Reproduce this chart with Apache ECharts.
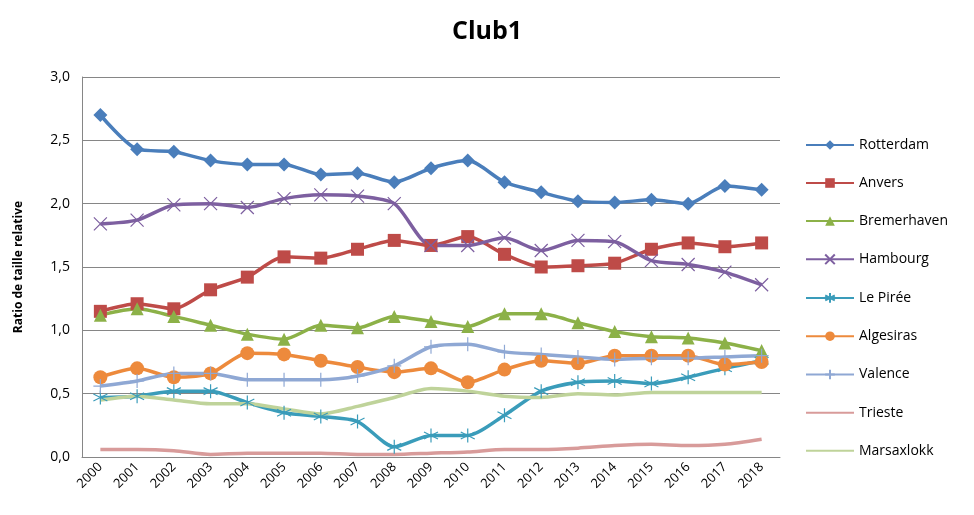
<!DOCTYPE html>
<html>
<head>
<meta charset="utf-8">
<script src="https://cdn.jsdelivr.net/npm/echarts@6/dist/echarts.min.js"></script>
<style>
  html, body { margin: 0; padding: 0; background: #fff; }
  #chart { width: 974px; height: 515px; }
</style>
</head>
<body>
<div id="chart"></div>
<script>
// années
const years = ['2000', '2001', '2002', '2003', '2004', '2005', '2006', '2007', '2008', '2009',
  '2010', '2011', '2012', '2013', '2014', '2015', '2016', '2017', '2018'];

// ratios
const rotterdam = [2.70, 2.43, 2.41, 2.34, 2.31, 2.31, 2.23, 2.24, 2.17, 2.28, 2.34, 2.17, 2.09, 2.02, 2.01, 2.03, 2.00, 2.14, 2.11];
const anvers = [1.15, 1.21, 1.17, 1.32, 1.42, 1.58, 1.57, 1.64, 1.71, 1.67, 1.74, 1.60, 1.50, 1.51, 1.53, 1.64, 1.69, 1.66, 1.69];
const bremerhaven = [1.12, 1.17, 1.11, 1.04, 0.97, 0.93, 1.04, 1.02, 1.11, 1.07, 1.03, 1.13, 1.13, 1.06, 0.99, 0.95, 0.94, 0.90, 0.84];
const hambourg = [1.84, 1.87, 1.99, 2.00, 1.97, 2.04, 2.07, 2.06, 2.00, 1.67, 1.67, 1.73, 1.63, 1.71, 1.70, 1.55, 1.52, 1.46, 1.36];
const lePiree = [0.47, 0.48, 0.52, 0.52, 0.43, 0.35, 0.32, 0.28, 0.08, 0.17, 0.17, 0.33, 0.52, 0.59, 0.60, 0.58, 0.63, 0.70, 0.76];
const algesiras = [0.63, 0.70, 0.63, 0.66, 0.82, 0.81, 0.76, 0.71, 0.67, 0.70, 0.59, 0.69, 0.76, 0.74, 0.80, 0.80, 0.80, 0.73, 0.75];
const valence = [0.56, 0.60, 0.66, 0.66, 0.61, 0.61, 0.61, 0.64, 0.72, 0.87, 0.89, 0.83, 0.81, 0.79, 0.77, 0.78, 0.78, 0.79, 0.80];
const trieste = [0.06, 0.06, 0.05, 0.02, 0.03, 0.03, 0.03, 0.02, 0.02, 0.03, 0.04, 0.06, 0.06, 0.07, 0.09, 0.10, 0.09, 0.10, 0.14];
const marsaxlokk = [0.45, 0.48, 0.45, 0.42, 0.42, 0.38, 0.34, 0.40, 0.47, 0.54, 0.52, 0.48, 0.47, 0.50, 0.49, 0.51, 0.51, 0.51, 0.51];

const font = "'Open Sans', 'DejaVu Sans', sans-serif";

// marqueurs style Excel
const symX = 'path://M0,0L10,10M10,0L0,10';
const symStar = 'path://M5,0L5,10M0,2.5L10,7.5M0,7.5L10,2.5';
const symPlus = 'path://M5,0L5,10M0,5L10,5';

function filled(name, data, color, symbol, size) {
  return {
    name: name, type: 'line', data: data, smooth: 0.25,
    symbol: symbol, symbolSize: size,
    lineStyle: { color: color, width: 3.5 },
    itemStyle: { color: color },
    emphasis: { disabled: true }
  };
}
function stroked(name, data, color, symbol, size) {
  return {
    name: name, type: 'line', data: data, smooth: 0.25,
    symbol: symbol, symbolSize: size,
    lineStyle: { color: color, width: 3.5 },
    itemStyle: { color: 'none', borderColor: color, borderWidth: 1.2 },
    emphasis: { disabled: true }
  };
}
function plain(name, data, color) {
  return {
    name: name, type: 'line', data: data, smooth: 0.25,
    symbol: 'none',
    lineStyle: { color: color, width: 3.5 },
    itemStyle: { color: color },
    emphasis: { disabled: true }
  };
}

const chart = echarts.init(document.getElementById('chart'));
chart.setOption({
  animation: false,
  backgroundColor: '#fff',
  title: {
    text: 'Club1', left: 'center', top: 14,
    textStyle: { fontFamily: font, fontSize: 25, fontWeight: 'bold', color: '#000' }
  },
  legend: {
    orient: 'vertical', left: 800, top: 133, itemGap: 24,
    itemWidth: 48, itemHeight: 12,
    textStyle: { fontFamily: font, fontSize: 14, color: '#000' },
    data: ['Rotterdam', 'Anvers', 'Bremerhaven', 'Hambourg', 'Le Pirée', 'Algesiras', 'Valence',
      { name: 'Trieste', itemStyle: { opacity: 0 } },
      { name: 'Marsaxlokk', itemStyle: { opacity: 0 } }]
  },
  grid: { left: 82, right: 194, top: 77, bottom: 58 },
  xAxis: {
    type: 'category', data: years, boundaryGap: true,
    axisLine: { lineStyle: { color: '#868686' } },
    axisTick: { show: false },
    axisLabel: { rotate: 45, fontFamily: font, fontSize: 13, color: '#000', margin: 8 }
  },
  yAxis: {
    type: 'value', min: 0, max: 3, interval: 0.5,
    name: 'Ratio de taille relative', nameLocation: 'middle', nameGap: 57,
    nameTextStyle: { fontFamily: font, fontSize: 12, fontWeight: 'bold', color: '#000' },
    axisLine: { show: true, lineStyle: { color: '#868686' } },
    axisTick: { show: false },
    splitLine: { lineStyle: { color: '#868686', width: 1 } },
    axisLabel: {
      fontFamily: font, fontSize: 14, color: '#000', margin: 12,
      formatter: v => v.toFixed(1).replace('.', ',')
    }
  },
  series: [
    filled('Rotterdam', rotterdam, '#4a7ebb', 'diamond', 14),
    filled('Anvers', anvers, '#be4b48', 'rect', 13),
    filled('Bremerhaven', bremerhaven, '#8cb148', 'triangle', 13),
    stroked('Hambourg', hambourg, '#7d5fa0', symX, 13),
    stroked('Le Pirée', lePiree, '#3a9cba', symStar, 14),
    filled('Algesiras', algesiras, '#ed8a3c', 'circle', 14),
    stroked('Valence', valence, '#8fa8d4', symPlus, 14),
    plain('Trieste', trieste, '#d89b9a'),
    plain('Marsaxlokk', marsaxlokk, '#bfd39a')
  ]
});
</script>
</body>
</html>
